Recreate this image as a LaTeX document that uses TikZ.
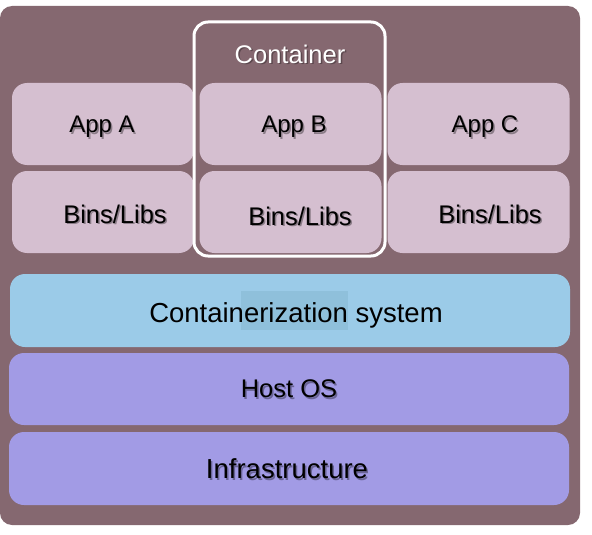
\documentclass[tikz,border=0pt]{standalone}
\usepackage{fontspec}
\setmainfont{Liberation Sans}
\usetikzlibrary{calc}
\definecolor{hostbg}{RGB}{133,104,112}
\definecolor{apppink}{RGB}{213,191,208}
\definecolor{cblue}{RGB}{155,203,232}
\definecolor{cmark}{RGB}{143,192,219}
\definecolor{layerpurple}{RGB}{162,155,229}
\tikzset{
  box/.style={rounded corners=15pt,inner sep=0pt},
  appbox/.style={box,fill=apppink,minimum width=182pt,minimum height=82pt},
  layer/.style={box,minimum width=560pt,minimum height=73pt},
  txt/.style={font=\fontsize{25.5}{28}\selectfont,text=black,inner sep=0pt},
  bigtxt/.style={font=\fontsize{27.5}{30}\selectfont},
}
\newcommand{\shtxt}[4][]{%
  \node[txt,#1,text=black,opacity=.35] at ($(#3)+(1.5,1.5)$) {#4};
  \node[txt,#1] (#2) at (#3) {#4};}
\begin{document}
\begin{tikzpicture}[x=1pt,y=-1pt]
    \useasboundingbox (0,0) rectangle (592,535);
    \fill[hostbg,rounded corners=12pt] (0,6) rectangle (580,525);
    % apps and their libraries
    \node[appbox] (appA) at (103,124) {};
    \node[appbox] (appB) at (290.5,124) {};
    \node[appbox] (appC) at (478.5,124) {};
    \node[appbox] (binsA) at (103,212) {};
    \node[appbox] (binsB) at (290.5,212) {};
    \node[appbox] (binsC) at (478.5,212) {};
    % the container frame
    \draw[white,line width=3pt,rounded corners=14pt] (194,22) rectangle (385,256);
    \node[txt,text=black,opacity=.3] at (291.5,55.5) {Container};
    \node[txt,text=white] (ctitle) at (290,54) {Container};
    % lower layers
    \node[layer,fill=cblue] (csys) at (290,310.5) {};
    \fill[cmark] (241,291) rectangle (348,330);
    \node[layer,fill=layerpurple,minimum height=72pt] (hostos) at (289,389) {};
    \node[layer,fill=layerpurple] (infra) at (289,468.5) {};
    % labels
    \shtxt[font=\fontsize{24}{27}\selectfont]{tA}{102,127}{App A}
    \shtxt[font=\fontsize{24}{27}\selectfont]{tB}{294,127}{App B}
    \shtxt[font=\fontsize{24}{27}\selectfont]{tC}{485,127}{App C}
    \shtxt{lA}{115,214}{Bins/Libs}
    \shtxt{lB}{300,216}{Bins/Libs}
    \shtxt{lC}{490,214}{Bins/Libs}
    \node[txt,bigtxt] (tcsys) at (296,315) {Containerization system};
    \shtxt{thost}{289,389}{Host OS}
    \shtxt[bigtxt]{tinfra}{287,469}{Infrastructure}
  \end{tikzpicture}
\end{document}
